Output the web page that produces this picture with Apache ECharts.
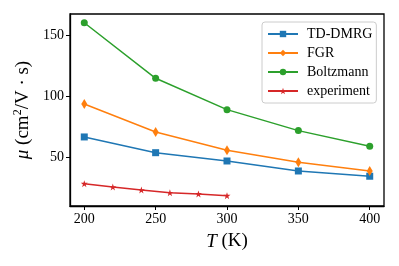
<!DOCTYPE html>
<html><head><meta charset="utf-8">
<script src="https://cdn.jsdelivr.net/npm/echarts@6/dist/echarts.min.js"></script>
<style>html,body{margin:0;padding:0;background:#fff}#c{width:399px;height:266px}</style>
</head><body><div id="c"></div>
<script>
const temps = [200, 250, 300, 350, 400];
const tdDmrg = [66.4, 53.5, 46.7, 38.5, 34.2];
const fgr = [93.4, 70.5, 55.5, 45.6, 38.5];
const boltzmann = [160, 114.5, 88.8, 71.6, 58.8];
const expTemps = [200, 220, 240, 260, 280, 300];
const experiment = [28.1, 25.4, 22.9, 20.7, 19.7, 18.3];
const xTicks = [200, 250, 300, 350, 400];
const yTicks = [50, 100, 150];

const star = 'path://M10 0 L12.25 6.91 L19.51 6.91 L13.63 11.18 L15.88 18.09 L10 13.82 L4.12 18.09 L6.37 11.18 L0.49 6.91 L7.75 6.91 Z';
const font = 'Liberation Serif';
const pair = (xs, ys) => xs.map((x, i) => [x, ys[i]]);

const chart = echarts.init(document.getElementById('c'), null, {renderer: 'canvas'});
chart.setOption({
  animation: false,
  grid: {left: 70, right: 15, top: 14, bottom: 60, show: true, borderColor: '#000', borderWidth: 1.3, backgroundColor: 'transparent'},
  xAxis: {
    type: 'value', min: 190, max: 410,
    axisLine: {show: true, lineStyle: {color: '#000', width: 1.3}},
    axisTick: {show: true, inside: false, length: 4, lineStyle: {color: '#000'}, customValues: xTicks},
    axisLabel: {color: '#000', fontFamily: font, fontSize: 14, margin: 6, customValues: xTicks},
    splitLine: {show: false},
    name: '{i|T} (K)', nameLocation: 'middle', nameGap: 26,
    nameTextStyle: {fontFamily: font, fontSize: 19, color: '#000', rich: {i: {fontFamily: font, fontStyle: 'italic', fontSize: 19, color: '#000'}}}
  },
  yAxis: {
    type: 'value', min: 9.8, max: 167.2,
    axisLine: {show: true, lineStyle: {color: '#000', width: 1.3}},
    axisTick: {show: true, inside: false, length: 4, lineStyle: {color: '#000'}, customValues: yTicks},
    axisLabel: {color: '#000', fontFamily: font, fontSize: 14, margin: 6, customValues: yTicks},
    splitLine: {show: false},
    name: '{i|μ} (cm{s|2}/V · s)', nameLocation: 'middle', nameGap: 34, nameRotate: 90,
    nameTextStyle: {fontFamily: font, fontSize: 19, color: '#000', rich: {i: {fontFamily: font, fontStyle: 'italic', fontSize: 19, color: '#000'}, s: {fontFamily: font, fontSize: 12, color: '#000', padding: [0, 0, 9, 0]}}}
  },
  legend: {
    left: 262, top: 22, orient: 'vertical',
    backgroundColor: '#fff', borderColor: '#ccc', borderWidth: 1, borderRadius: 3,
    padding: [5, 4, 5, 5], itemGap: 5, itemWidth: 30, itemHeight: 8,
    textStyle: {fontFamily: font, fontSize: 14, color: '#000', padding: [0, 0, 0, 4]},
    data: ['TD-DMRG', 'FGR', 'Boltzmann', 'experiment']
  },
  series: [
    {name: 'TD-DMRG', type: 'line', data: pair(temps, tdDmrg), color: '#1f77b4', symbol: 'rect', symbolSize: 7, lineStyle: {width: 1.5}},
    {name: 'FGR', type: 'line', data: pair(temps, fgr), color: '#ff7f0e', symbol: 'diamond', symbolSize: [6, 10], lineStyle: {width: 1.5}},
    {name: 'Boltzmann', type: 'line', data: pair(temps, boltzmann), color: '#2ca02c', symbol: 'circle', symbolSize: 7, lineStyle: {width: 1.5}},
    {name: 'experiment', type: 'line', data: pair(expTemps, experiment), color: '#d62728', symbol: star, symbolSize: 7, lineStyle: {width: 1.5}}
  ]
});
</script></body></html>
